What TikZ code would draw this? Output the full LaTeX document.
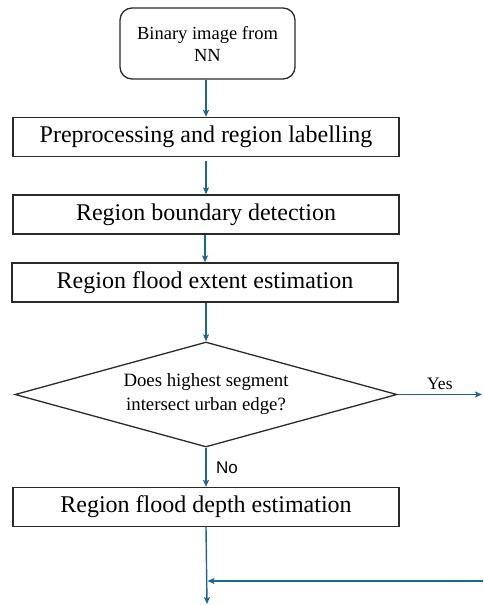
\documentclass[tikz,border=0pt]{standalone}
\usepackage{fontspec}
\setmainfont{Liberation Serif}
\newfontfamily\labelsans{Liberation Sans}
\usetikzlibrary{shapes.geometric,arrows.meta}
\definecolor{flowblue}{HTML}{1D6690}
\definecolor{edgegray}{HTML}{2A2A2A}
\begin{document}
\begin{tikzpicture}[x=1pt,y=-1pt,
  stepbox/.style={draw=edgegray,line width=1.3pt,minimum width=386pt,minimum height=39pt,
    inner sep=0pt,font=\fontsize{24}{28}\selectfont},
  startbox/.style={draw=edgegray,line width=1.3pt,rounded corners=12pt,minimum width=175pt,
    minimum height=71pt,align=center,inner sep=0pt,font=\fontsize{18.5}{22}\selectfont},
  decision/.style={draw=edgegray,line width=1.3pt,diamond,aspect=3.6,minimum width=382pt,
    minimum height=105pt,inner sep=0pt,align=center,font=\fontsize{18.8}{24}\selectfont},
  flow/.style={draw=flowblue,line width=1.4pt,-{Stealth[length=7pt,width=6pt,inset=1.5pt]}},
  flowline/.style={draw=flowblue,line width=1.4pt}]
\useasboundingbox (0,0) rectangle (483,605);

\node[startbox] (start) at (207.5,43.5) {Binary image from\\NN};
\node[stepbox] (pre) at (206,137) {Preprocessing and region labelling};
\node[stepbox] (bnd) at (206,214.5) {Region boundary detection};
\node[stepbox] (ext) at (205,282.5) {Region flood extent estimation};
\node[decision] (dec) at (206,394.5) {Does highest segment\\intersect urban edge?};
\node[stepbox] (dep) at (206,507) {Region flood depth estimation};

\coordinate (yesend) at (482,394.5);
\coordinate (bottom) at (207,604);
\coordinate (loopin) at (483,581);
\coordinate (join) at (207.5,581);

\draw[flow] (start.south -| 206,0) -- (pre.north -| 206,0);
\draw[flow] ([yshift=-4pt]pre.south -| 206,0) -- (bnd.north -| 206,0);
\draw[flow] (bnd.south -| 205,0) -- (ext.north -| 205,0);
\draw[flow] (ext.south -| 206,0) -- (dec.north);
\draw[flow] (dec.south) -- node[right,xshift=6pt,font=\labelsans\fontsize{17}{20}\selectfont] {No} (dep.north);
\draw[flow] (dec.east) -- node[above,yshift=1pt,font=\fontsize{17.5}{20}\selectfont] {Yes} (yesend);
\draw[flow] (dep.south) -- (bottom);
\draw[flow] (loopin) -- (join);
\end{tikzpicture}
\end{document}
